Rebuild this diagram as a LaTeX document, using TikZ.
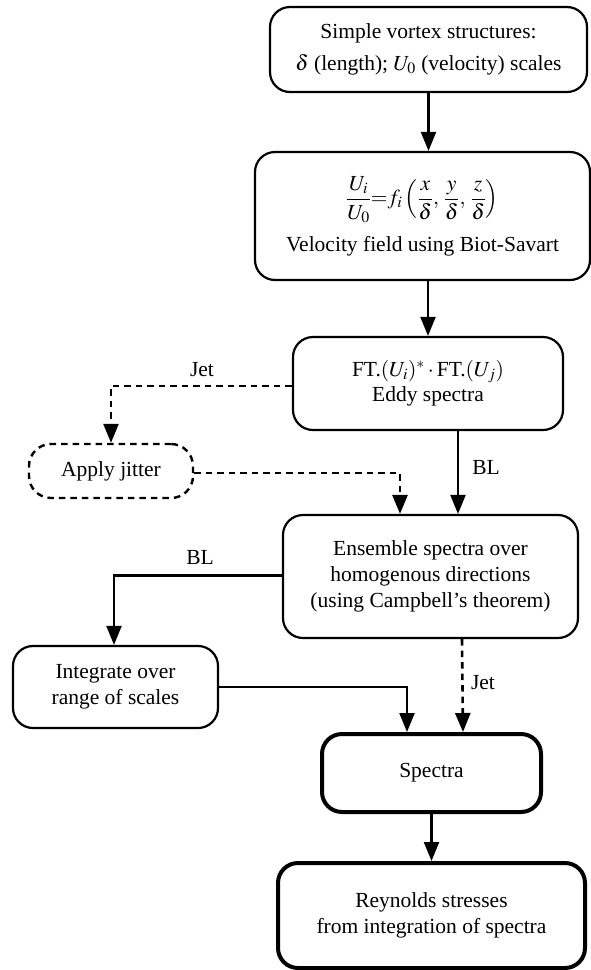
\documentclass[tikz,border=0pt]{standalone}
\usepackage{mathptmx}
\usepackage{fontspec}
\setmainfont{Liberation Serif}
\usetikzlibrary{arrows.meta,calc}
\begin{document}
\begin{tikzpicture}[x=1pt,y=-1pt,
  box/.style={draw,line width=2.2pt,rounded corners=20pt,inner sep=0pt,align=center,
    font=\fontsize{21.5}{26}\selectfont},
  thickbox/.style={box,line width=4pt},
  dashbox/.style={box,line width=2.4pt,dash pattern=on 6.5pt off 5pt,rounded corners=22pt},
  lbl/.style={font=\fontsize{21.5}{26}\selectfont,inner sep=0pt},
  arr/.style={line width=2.2pt,-{Triangle[length=19pt,width=15pt]}},
  darr/.style={arr,line width=2.6pt,dash pattern=on 6.5pt off 5pt}]
\useasboundingbox (0,0) rectangle (591,970);
\node[box,minimum width=317pt,minimum height=85pt] (b1) at (428.5,49.5)
  {Simple vortex structures:\\[6pt]$\delta$ (length); $U_0$ (velocity) scales};
\node[box,minimum width=335pt,minimum height=128pt] (b2) at (422.5,216)
  {$\displaystyle \frac{U_i}{U_0}{=}f_i\left(\frac{x}{\delta},\,\frac{y}{\delta},\,\frac{z}{\delta}\right)$\\[12pt]Velocity field using Biot-Savart};
\node[box,minimum width=270pt,minimum height=93pt] (b3) at (428,383.5)
  {FT.$(U_i)^*\mathbin{\cdot}{}$FT.$(U_j)$\\[-1pt]Eddy spectra};
\node[dashbox,minimum width=164pt,minimum height=54pt] (jit) at (111,471)
  {Apply jitter};
\node[box,minimum width=295pt,minimum height=123pt] (b4) at (430.5,576.5)
  {Ensemble spectra over\\homogenous directions\\(using Campbell's theorem)};
\node[box,minimum width=205pt,minimum height=82pt] (b5) at (115.5,687)
  {Integrate over\\range of scales};
\node[thickbox,minimum width=219pt,minimum height=78pt] (sp) at (431.5,773)
  {Spectra};
\node[thickbox,minimum width=307pt,minimum height=105pt] (rey) at (431.5,915.5)
  {Reynolds stresses\\from integration of spectra};
% labels
\node[lbl] (ljet1) at (202,370) {Jet};
\node[lbl] (lbl1) at (486,467) {BL};
\node[lbl] (lbl2) at (200,557) {BL};
\node[lbl] (ljet2) at (483,683) {Jet};
% connectors
\draw[arr] (b1.south) -- (b1.south |- b2.north);
\draw[arr] (b2.south -| b3.north) -- (b3.north);
\draw[darr] ([yshift=-2.5pt]b3.west) -| (jit.north);
\draw[darr] ([yshift=-2pt]jit.east) -| ([xshift=-30.5pt]b4.north);
\draw[arr] ([xshift=30pt]b3.south) -- ([xshift=30pt]b3.south |- b4.north);
\draw[arr] ([yshift=1pt]b4.west) -| ([xshift=-1.5pt]b5.north);
\draw[arr] (b5.east) -| ([xshift=-24.5pt]sp.north);
\draw[darr] ([xshift=31.5pt]b4.south) -- ([xshift=31.5pt]sp.north);
\draw[arr] (sp.south) -- (rey.north);
\end{tikzpicture}
\end{document}
